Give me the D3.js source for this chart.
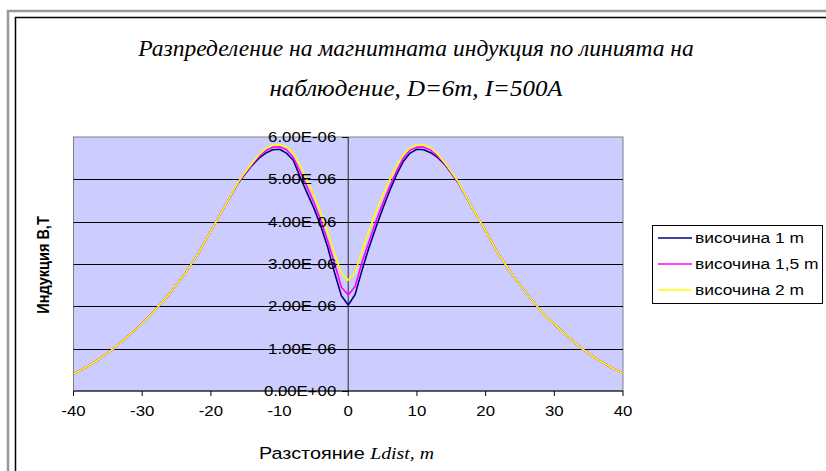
<!DOCTYPE html>
<html>
<head>
<meta charset="utf-8">
<script src="https://cdn.jsdelivr.net/npm/d3@7"></script>
<style>
  body { margin: 0; background: #fff; }
</style>
</head>
<body>
<div id="chart"></div>
<script>
// distance along the observation line, m (1 m steps near the conductors)
var distance = [-40, -38, -36, -34, -32, -30, -28, -26, -24, -22, -20, -18,
  -16, -15, -14, -13, -12, -11, -10, -9, -8, -7, -6, -5, -4, -3, -2, -1,
  0, 1, 2, 3, 4, 5, 6, 7, 8, 9, 10, 11, 12, 13, 14, 15, 16,
  18, 20, 22, 24, 26, 28, 30, 32, 34, 36, 38, 40];

// induction B, x1e-6 T
var height1 = [0.40, 0.58, 0.78, 1.02, 1.30, 1.60, 1.93, 2.30, 2.72, 3.20, 3.78, 4.36,
  4.92, 5.13, 5.33, 5.50, 5.62, 5.70, 5.71, 5.62, 5.45, 5.05, 4.68, 4.32, 3.90, 3.40, 2.80, 2.25,
  2.03, 2.28, 2.85, 3.38, 3.85, 4.30, 4.72, 5.10, 5.42, 5.62, 5.71, 5.70, 5.63, 5.52, 5.36, 5.15, 4.92,
  4.34, 3.78, 3.20, 2.72, 2.30, 1.90, 1.58, 1.28, 1.00, 0.78, 0.58, 0.42];
var height15 = [0.40, 0.58, 0.78, 1.02, 1.30, 1.60, 1.93, 2.30, 2.72, 3.20, 3.78, 4.36,
  4.93, 5.15, 5.35, 5.54, 5.68, 5.76, 5.77, 5.70, 5.52, 5.18, 4.82, 4.45, 4.03, 3.55, 3.02, 2.45,
  2.27, 2.47, 3.04, 3.52, 4.00, 4.42, 4.82, 5.18, 5.50, 5.69, 5.76, 5.76, 5.69, 5.55, 5.38, 5.16, 4.93,
  4.34, 3.78, 3.20, 2.72, 2.30, 1.90, 1.58, 1.28, 1.00, 0.78, 0.58, 0.42];
var height2 = [0.40, 0.58, 0.78, 1.02, 1.30, 1.60, 1.93, 2.30, 2.72, 3.20, 3.78, 4.36,
  4.94, 5.17, 5.38, 5.58, 5.73, 5.81, 5.82, 5.77, 5.62, 5.32, 4.98, 4.62, 4.22, 3.75, 3.25, 2.78,
  2.62, 2.80, 3.30, 3.78, 4.22, 4.62, 4.98, 5.30, 5.58, 5.75, 5.82, 5.81, 5.74, 5.60, 5.40, 5.18, 4.94,
  4.34, 3.78, 3.20, 2.72, 2.30, 1.90, 1.58, 1.28, 1.00, 0.78, 0.58, 0.42];

var seriesNames = ["височина 1 m", "височина 1,5 m", "височина 2 m"];
var xTicks = [-40, -30, -20, -10, 0, 10, 20, 30, 40];
var yTicks = [0, 1, 2, 3, 4, 5, 6];

var colors = ["#000080", "#ff00ff", "#ffff00"];

var W = 826, H = 471;
var plot = {left: 73.5, right: 623, top: 137, bottom: 391};
var sx = 1.2; // the sans text is stretched sideways in the picture

var svg = d3.select("#chart").append("svg")
  .attr("width", W)
  .attr("height", H);

// outer frame (runs off the right and bottom edge)
svg.append("rect")
  .attr("x", 8).attr("y", 11)
  .attr("width", 900).attr("height", 600)
  .attr("fill", "none").attr("stroke", "#999").attr("stroke-width", 2.5);
svg.append("rect")
  .attr("x", 15.5).attr("y", 17.5)
  .attr("width", 900).attr("height", 600)
  .attr("fill", "#fff").attr("stroke", "#000").attr("stroke-width", 1.5);

function label(g, x, y, txt, opts) {
  var s = opts.stretch || sx;
  var t = g.append("text")
    .attr("transform", "translate(" + x + "," + y + ") scale(" + s + ",1)")
    .attr("text-anchor", opts.anchor || "start")
    .style("font-family", opts.family || "'Liberation Sans', Arial, sans-serif")
    .style("font-size", opts.size + "px")
    .text(txt);
  if (opts.italic) t.style("font-style", "italic");
  if (opts.bold) t.style("font-weight", "bold");
  return t;
}

var serif = "'Liberation Serif', 'Times New Roman', serif";

// title
label(svg, 416, 56, "Разпределение на магнитната индукция по линията на", {anchor: "middle", family: serif, italic: true, size: 24, stretch: 0.98});
label(svg, 416, 96, "наблюдение, D=6m, I=500A", {anchor: "middle", family: serif, italic: true, size: 24, stretch: 1.04});

var x = d3.scaleLinear().domain([-40, 40]).range([plot.left, plot.right]);
var y = d3.scaleLinear().domain([0, 6e-6]).range([plot.bottom, plot.top]);

// plot area
svg.append("rect")
  .attr("x", plot.left).attr("y", plot.top)
  .attr("width", plot.right - plot.left).attr("height", plot.bottom - plot.top)
  .attr("fill", "#ccccff").attr("stroke", "#808080").attr("stroke-width", 1);

// gridlines
svg.append("g").selectAll("line")
  .data(yTicks.slice(1, -1))
  .join("line")
  .attr("x1", plot.left).attr("x2", plot.right)
  .attr("y1", function (d) { return Math.round(y(d * 1e-6)) + 0.5; })
  .attr("y2", function (d) { return Math.round(y(d * 1e-6)) + 0.5; })
  .attr("stroke", "#000").attr("stroke-width", 1);

// y axis sits at x = 0
var yAxis = svg.append("g");
yAxis.append("line")
  .attr("x1", x(0)).attr("x2", x(0))
  .attr("y1", plot.top).attr("y2", plot.bottom)
  .attr("stroke", "#444").attr("stroke-width", 1.2);
yAxis.selectAll("line.tick")
  .data(yTicks)
  .join("line")
  .attr("class", "tick")
  .attr("x1", x(0) - 6).attr("x2", x(0))
  .attr("y1", function (d) { return Math.round(y(d * 1e-6)) + 0.5; })
  .attr("y2", function (d) { return Math.round(y(d * 1e-6)) + 0.5; })
  .attr("stroke", "#000");

// x axis at the bottom
svg.append("line")
  .attr("x1", plot.left).attr("x2", plot.right)
  .attr("y1", plot.bottom).attr("y2", plot.bottom)
  .attr("stroke", "#000").attr("stroke-width", 1.2);
svg.append("g").selectAll("line")
  .data(xTicks)
  .join("line")
  .attr("x1", function (d) { return x(d); }).attr("x2", function (d) { return x(d); })
  .attr("y1", plot.bottom).attr("y2", plot.bottom + 5)
  .attr("stroke", "#000");

// curves
var series = [height1, height15, height2];
var line = d3.line()
  .x(function (d, i) { return x(distance[i]); })
  .y(function (d) { return y(d * 1e-6); });

svg.append("g").selectAll("path")
  .data(series)
  .join("path")
  .attr("d", line)
  .attr("fill", "none")
  .attr("stroke", function (d, i) { return colors[i]; })
  .attr("stroke-width", 1.6)
  .attr("stroke-linejoin", "round");

// tick labels
function sci(v) {
  return v.toExponential(2).toUpperCase().replace(/E([+-])(\d)$/, "E$10$2");
}
var tickG = svg.append("g");
yTicks.forEach(function (d) {
  label(tickG, x(0) - 12, y(d * 1e-6) + 5, sci(d * 1e-6), {anchor: "end", size: 14});
});
xTicks.forEach(function (d) {
  label(tickG, x(d), 416, d, {anchor: "middle", size: 14});
});

// axis titles
svg.append("text")
  .attr("transform", "translate(49,265) rotate(-90) scale(1," + sx + ")")
  .attr("text-anchor", "middle")
  .style("font-family", "'Liberation Sans', Arial, sans-serif")
  .style("font-size", "14.5px")
  .style("font-weight", "bold")
  .text("Индукция B,T");

var xt = label(svg, 259, 459, "Разстояние ", {size: 16.5});
xt.append("tspan")
  .style("font-family", serif)
  .style("font-style", "italic")
  .text("Ldist, m");

// legend
var leg = svg.append("g");
leg.append("rect")
  .attr("x", 652.5).attr("y", 225.5)
  .attr("width", 170).attr("height", 78)
  .attr("fill", "#fff").attr("stroke", "#000");
seriesNames.forEach(function (name, i) {
  var ly = 238 + i * 26;
  leg.append("line")
    .attr("x1", 658).attr("x2", 692)
    .attr("y1", ly).attr("y2", ly)
    .attr("stroke", colors[i]).attr("stroke-width", 1.6);
  label(leg, 695, ly + 5, name, {size: 14.5});
});
</script>
</body>
</html>
